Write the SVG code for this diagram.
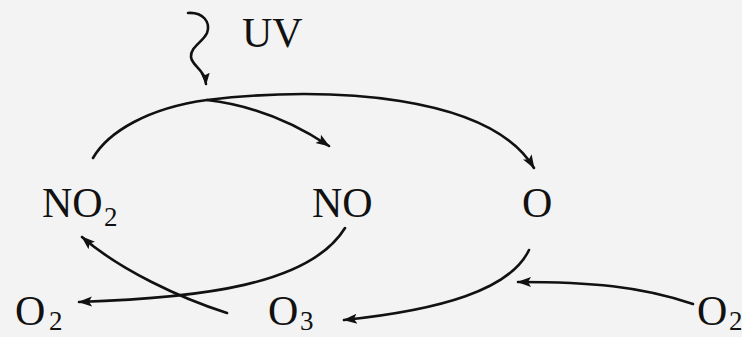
<svg xmlns="http://www.w3.org/2000/svg" width="742" height="337" viewBox="0 0 742 337">
<defs>
<style>
.t{font-family:"Liberation Serif","Times New Roman",serif;font-size:42px;fill:#111}
.s{font-size:27px}
.c{fill:none;stroke:#111;stroke-width:2.6;stroke-linecap:round}
</style>
<marker id="ah" markerUnits="userSpaceOnUse" markerWidth="16" markerHeight="12" refX="13" refY="5" orient="auto" viewBox="0 0 16 10">
<path d="M0,0 L14,5 L0,10 L3,5 z" fill="#111"/>
</marker>
<marker id="ahs" markerUnits="userSpaceOnUse" markerWidth="12" markerHeight="10" refX="11" refY="4.5" orient="auto" viewBox="0 0 12 9">
<path d="M0,0 L12,4.5 L0,9 L2,4.5 z" fill="#111"/>
</marker>
</defs>
<rect width="742" height="337" fill="#f3f3f3"/>
<g id="connectors">
<path class="c" d="M188,13 C203,12 211,22 207,33 C203,42 190,47 191,57 C192,66 205,70 206,84" marker-end="url(#ahs)"/>
<path class="c" d="M93,158 C108,132 148,108 207,100 C330,85 490,95 534,168" marker-end="url(#ah)"/>
<path class="c" d="M207,100 C250,105 290,120 329,146" marker-end="url(#ah)"/>
<path class="c" d="M345,228 C310,285 200,298 79,302" marker-end="url(#ah)"/>
<path class="c" d="M227,313 C180,298 120,270 82,237" marker-end="url(#ah)"/>
<path class="c" d="M529,250 C510,290 440,310 344,320" marker-end="url(#ah)"/>
<path class="c" d="M693,304 C640,286 590,282 518,282" marker-end="url(#ah)"/>
</g>
<g id="uv"><text class="t" x="242" y="47">UV</text></g>
<g id="no2"><text class="t" x="42" y="217">NO<tspan class="s" x="104" y="226">2</tspan></text></g>
<g id="no"><text class="t" x="312" y="217">NO</text></g>
<g id="o"><text class="t" x="522" y="217">O</text></g>
<g id="o2-left"><text class="t" x="15" y="325">O<tspan class="s" x="49" y="330">2</tspan></text></g>
<g id="o3"><text class="t" x="268" y="325">O<tspan class="s" x="300" y="330">3</tspan></text></g>
<g id="o2-right"><text class="t" x="697" y="325">O<tspan class="s" x="729" y="330">2</tspan></text></g>
</svg>
